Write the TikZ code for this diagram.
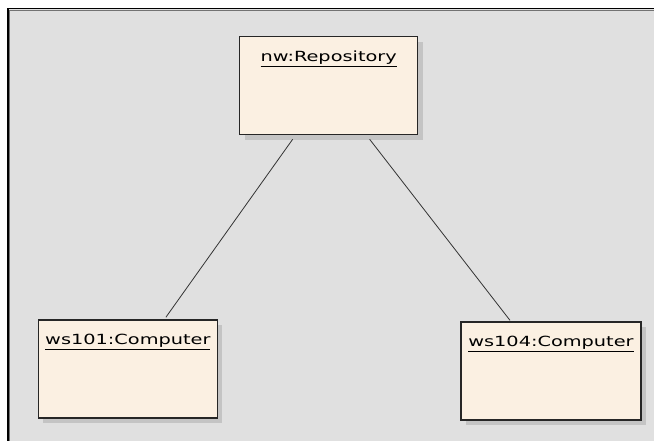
\documentclass[tikz,border=0pt]{standalone}
\usepackage{fontspec}
\usetikzlibrary{positioning, shadows, calc}
\newfontfamily\umlfont[FakeStretch=1.38]{DejaVu Sans}
\definecolor{canvasgray}{RGB}{224,224,224}
\definecolor{objfill}{RGB}{251,240,226}
\definecolor{shadegray}{RGB}{196,196,196}

\begin{document}
\begin{tikzpicture}[x=1pt, y=-1pt,
    objbox/.style={draw=black!85, line width=1.3pt, fill=objfill,
        inner sep=0pt, minimum width=179pt,
        text height=25pt, text depth=73pt,
        font=\umlfont\fontsize{14}{16}\selectfont,
        drop shadow={shadow xshift=5pt, shadow yshift=-5pt,
                     fill=shadegray, opacity=1}},
    link/.style={draw=black!80, line width=0.8pt}]
  \useasboundingbox (0,0) rectangle (654,441);
  % diagram frame
  \fill[canvasgray] (8,9) rectangle (654,441);
  \draw[black, line width=1.6pt] (7.8,441) -- (7.8,8.6) -- (654,8.6);
  \draw[black!55, line width=0.8pt] (9.2,441) -- (9.2,10) -- (654,10);

  \node[objbox, minimum width=178pt, anchor=north west] (rep) at (239,36)
    {\underline{nw:Repository}};
  \node[objbox, below left=184pt and 21pt of rep.south west] (ws101)
    {\underline{ws101:Computer}};
  \node[objbox, minimum width=180pt,
        below right=186pt and 42pt of rep.south east] (ws104)
    {\underline{ws104:Computer}};

  \draw[link] ([xshift=-36pt, yshift=-4pt]rep.south)
    -- ([xshift=38pt, yshift=2pt]ws101.north);
  \draw[link] ([xshift=41pt, yshift=-4pt]rep.south)
    -- ([xshift=-41pt, yshift=1pt]ws104.north);
\end{tikzpicture}
\end{document}
